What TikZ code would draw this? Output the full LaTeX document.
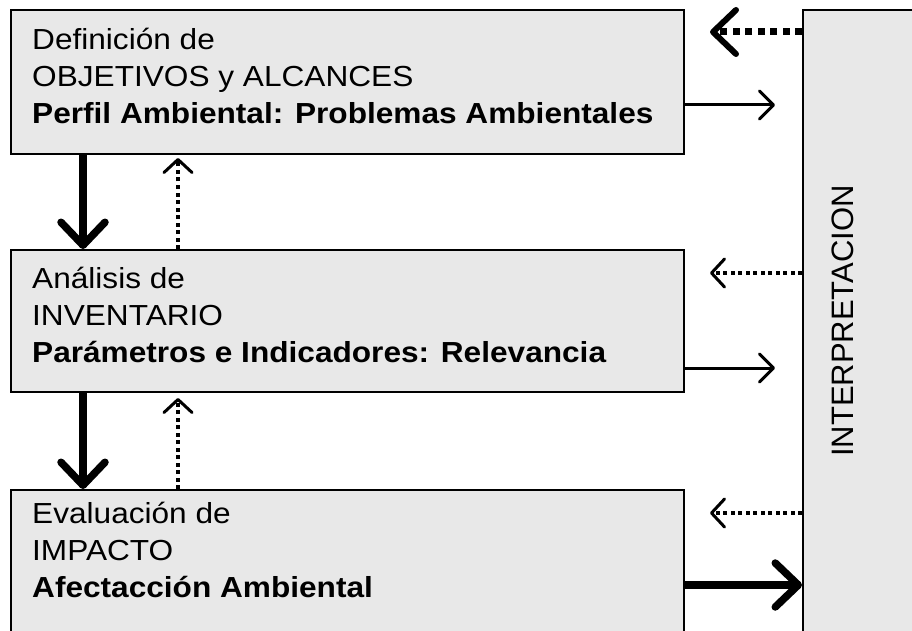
\documentclass[tikz,border=0pt]{standalone}
\usepackage{fontspec}
\setmainfont[FakeStretch=1.09]{Liberation Sans}
\newfontfamily\rotfont{Liberation Sans}
\usetikzlibrary{arrows.meta}
\definecolor{boxgray}{RGB}{232,232,232}
\tikzset{
  box/.style={draw=black, line width=2pt, fill=boxgray, anchor=north west, inner sep=0pt},
  boxtext/.style={anchor=north west, align=left, inner sep=0pt, font=\fontsize{29}{37}\selectfont},
  thinarr/.style={line width=3pt, -{Straight Barb[length=14pt,width=28pt,round]}},
  thickarr/.style={line width=7.5pt, -{Straight Barb[length=23pt,width=44pt,round]}},
  thindot/.style={line width=3.5pt, dash pattern=on 4pt off 3.5pt, -{Straight Barb[length=13pt,width=28pt,line width=3pt,round]}},
  thickdot/.style={line width=7pt, dash pattern=on 7pt off 5.5pt, -{Straight Barb[length=23pt,width=44pt,line width=6pt,round]}}
}
\begin{document}
\begin{tikzpicture}[x=1pt,y=-1pt]
\useasboundingbox (0,0) rectangle (912,631);
\clip (0,0) rectangle (912,631);
% boxes
\node[box, minimum width=673pt, minimum height=144pt] (b1) at (10,9) {};
\node[box, minimum width=673pt, minimum height=142pt] (b2) at (10,249) {};
\node[box, minimum width=673pt, minimum height=170pt] (b3) at (10,489) {};
\node[box, minimum width=130pt, minimum height=660pt] (rb) at (802,9) {};
% texts
\node[boxtext] (t1) at (32,27) {\rule{0pt}{22pt}Definición de\\OBJETIVOS y ALCANCES\\\textbf{Perfil Ambiental: Problemas Ambientales}};
\node[boxtext] (t2) at (32,266) {\rule{0pt}{22pt}Análisis de\\INVENTARIO\\\textbf{Parámetros e Indicadores: Relevancia}};
\node[boxtext] (t3) at (32,501) {\rule{0pt}{22pt}Evaluación de\\IMPACTO\\\textbf{Afectacción Ambiental}};
\node[rotate=90, inner sep=0pt, font=\rotfont\fontsize{31}{37}\selectfont] (t4) at (842.5,321) {INTERPRETACION};
% helper coordinates
\coordinate (c1) at (83,0);
\coordinate (c2) at (178,0);
\coordinate (u1) at (178,158);
\coordinate (u2) at (178,398);
\coordinate (r1) at (0,32);
\coordinate (r2) at (0,105);
\coordinate (r3) at (0,273);
\coordinate (r4) at (0,368);
\coordinate (r5) at (0,513);
\coordinate (r6) at (0,585);
\coordinate (tipL) at (710,0);
\coordinate (tipR) at (775,0);
% vertical connectors
\draw[thickarr] (b1.south -| c1) -- (b2.north -| c1);
\draw[thickarr] (b2.south -| c1) -- (b3.north -| c1);
\draw[thindot] (b2.north -| c2) -- (u1);
\draw[thindot] (b3.north -| c2) -- (u2);
% horizontal connectors
\draw[thickdot] (rb.west |- r1) -- (tipL |- r1);
\draw[thinarr] (b1.east |- r2) -- (tipR |- r2);
\draw[thindot] (rb.west |- r3) -- (tipL |- r3);
\draw[thinarr] (b2.east |- r4) -- (tipR |- r4);
\draw[thindot] (rb.west |- r5) -- (tipL |- r5);
\draw[thickarr] (b3.east |- r6) -- (rb.west |- r6);
\end{tikzpicture}
\end{document}
